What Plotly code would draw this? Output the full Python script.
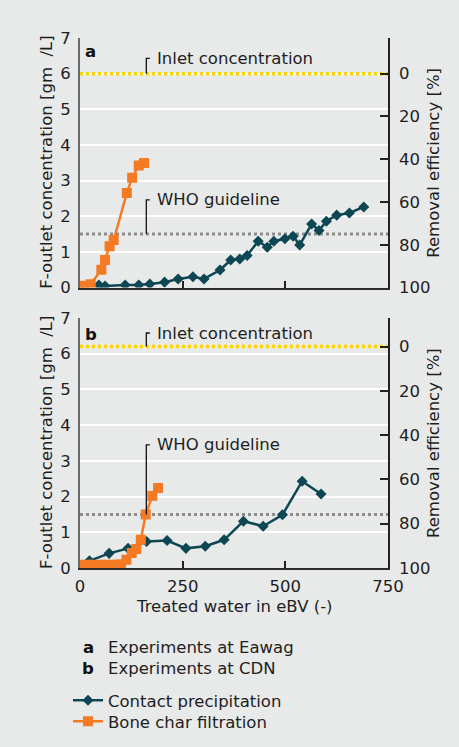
import plotly.graph_objects as go

# ---------------- data ----------------
# Panel a: experiments at Eawag
A_CP_X = [46, 61, 110, 143, 170, 206, 239, 275, 302, 341, 367, 389, 407, 434, 456, 472, 499, 519, 535, 564, 582, 600, 625, 656, 691]
A_CP_Y = [0.07, 0.04, 0.07, 0.07, 0.10, 0.15, 0.24, 0.30, 0.24, 0.49, 0.77, 0.80, 0.90, 1.30, 1.13, 1.30, 1.37, 1.44, 1.19, 1.78, 1.60, 1.86, 2.03, 2.09, 2.26]
A_BC_X = [0, 9, 26, 52, 61, 72, 82, 114, 127, 143, 156]
A_BC_Y = [0.05, 0.04, 0.09, 0.50, 0.77, 1.16, 1.33, 2.65, 3.08, 3.42, 3.49]

# Panel b: experiments at CDN
B_CP_X = [0, 23, 71, 117, 162, 212, 258, 305, 351, 398, 446, 493, 541, 587]
B_CP_Y = [0.05, 0.20, 0.41, 0.55, 0.74, 0.77, 0.55, 0.61, 0.79, 1.31, 1.17, 1.49, 2.43, 2.07]
B_BC_X = [0, 10, 20, 30, 40, 50, 60, 70, 80, 90, 100, 113, 126, 137, 148, 160, 176, 190]
B_BC_Y = [0.09, 0.08, 0.09, 0.09, 0.08, 0.09, 0.09, 0.08, 0.09, 0.09, 0.10, 0.23, 0.42, 0.53, 0.79, 1.50, 2.02, 2.24]

INLET = [6.0, 6.2]          # inlet concentration per panel
WHO = 1.5                   # WHO guideline
X_RANGE = [0, 750]
X_TICKS = [0, 250, 500, 750]
EFF_TICKS = [0, 20, 40, 60, 80, 100]
PANEL_LABELS = ["a", "b"]
LEGEND_NOTES = [("a", "Experiments at Eawag"), ("b", "Experiments at CDN")]
SERIES_NAMES = ["Contact precipitation", "Bone char filtration"]

# ---------------- style ----------------
BG = "#e8e9e9"
TEAL = "#0c4753"
ORANGE = "#f47a24"
YELLOW = "#f9d200"
GREY_DOT = "#8c8c8c"
TXT = "#1e1e1e"
FONT = "DejaVu Sans"
FS = 16.5

W, H = 459, 747
ML, MR, MT, MB = 80, 71, 38, 179
PW, PH = W - ML - MR, H - MT - MB


def pxx(x):
    return (x - ML) / PW


def pxy(y):
    return (H - MB - y) / PH


fig = go.Figure()

panels = [
    dict(cpx=A_CP_X, cpy=A_CP_Y, bcx=A_BC_X, bcy=A_BC_Y, xa="x", ya="y", ya2="y2"),
    dict(cpx=B_CP_X, cpy=B_CP_Y, bcx=B_BC_X, bcy=B_BC_Y, xa="x2", ya="y3", ya2="y4"),
]

for i, p in enumerate(panels):
    fig.add_trace(go.Scatter(x=X_RANGE, y=[INLET[i], INLET[i]], mode="lines",
                             line=dict(color=YELLOW, width=3.5, dash="3px,3px"),
                             xaxis=p["xa"], yaxis=p["ya"], showlegend=False, hoverinfo="skip"))
    fig.add_trace(go.Scatter(x=X_RANGE, y=[WHO, WHO], mode="lines",
                             line=dict(color=GREY_DOT, width=3, dash="3px,3px"),
                             xaxis=p["xa"], yaxis=p["ya"], showlegend=False, hoverinfo="skip"))
    fig.add_trace(go.Scatter(x=p["cpx"], y=p["cpy"], mode="lines+markers", name=SERIES_NAMES[0],
                             line=dict(color=TEAL, width=2.5),
                             marker=dict(symbol="diamond", size=8.5, color=TEAL),
                             xaxis=p["xa"], yaxis=p["ya"], showlegend=(i == 0), legend="legend"))
    fig.add_trace(go.Scatter(x=p["bcx"], y=p["bcy"], mode="lines+markers", name=SERIES_NAMES[1],
                             line=dict(color=ORANGE, width=2.5),
                             marker=dict(symbol="square", size=10, color=ORANGE),
                             xaxis=p["xa"], yaxis=p["ya"], showlegend=(i == 0), legend="legend2"))
    fig.add_trace(go.Scatter(x=[None], y=[None], xaxis=p["xa"], yaxis=p["ya2"],
                             showlegend=False, hoverinfo="skip"))

tickfont = dict(family=FONT, size=FS, color=TXT)

common_x = dict(range=X_RANGE, tickvals=X_TICKS, ticks="inside", ticklen=7, tickwidth=1.5,
                tickcolor="#222", showline=True, linecolor="#2a2a2a", linewidth=1.5,
                showgrid=False, zeroline=False, tickfont=tickfont, fixedrange=True)
common_y = dict(range=[0, 7], dtick=1, ticks="", showline=True, linecolor="#6a6a6a", linewidth=2,
                showgrid=True, gridcolor="white", gridwidth=1.5, zeroline=False,
                tickfont=tickfont, ticklabelstandoff=4)


def eff_axis(overlay, cin):
    top = (1 - 7 / cin) * 100
    return dict(overlaying=overlay, side="right", range=[100, top], tickvals=EFF_TICKS,
                ticks="inside", ticklen=8, tickwidth=1.5, tickcolor="#222",
                showline=True, linecolor="#222", linewidth=1.5, showgrid=False, zeroline=False,
                tickfont=tickfont, ticklabelstandoff=6)


dom_a = [pxy(287.5), 1]
dom_b = [0, pxy(318)]

legend_common = dict(xanchor="left", yanchor="top", bgcolor="rgba(0,0,0,0)",
                     font=dict(family=FONT, size=FS, color=TXT), itemwidth=30)

fig.update_layout(
    width=W, height=H,
    margin=dict(l=ML, r=MR, t=MT, b=MB, autoexpand=False),
    paper_bgcolor=BG, plot_bgcolor=BG,
    font=dict(family=FONT, size=FS, color=TXT),
    xaxis=dict(anchor="y", domain=[0, 1], showticklabels=False, **common_x),
    yaxis=dict(anchor="x", domain=dom_a, **common_y),
    yaxis2=eff_axis("y", INLET[0]),
    xaxis2=dict(anchor="y3", domain=[0, 1], showticklabels=True, ticklabelstandoff=2, **common_x),
    yaxis3=dict(anchor="x2", domain=dom_b, **common_y),
    yaxis4=eff_axis("y3", INLET[1]),
    showlegend=True,
    legend=dict(x=pxx(68), y=pxy(683), **legend_common),
    legend2=dict(x=pxx(68), y=pxy(704), **legend_common),
)

ann = []
shapes = []
brackets = [
    ("x", "y", INLET[0], 6.43, "Inlet concentration"),
    ("x", "y", WHO, 2.46, "WHO guideline"),
    ("x2", "y3", INLET[1], 6.58, "Inlet concentration"),
    ("x2", "y3", WHO, 3.45, "WHO guideline"),
]
BX0, BX1, TX = 161.5, 170, 182
for xr, yr, y0, y1, txt in brackets:
    shapes.append(dict(type="path", xref=xr, yref=yr,
                       path=f"M {BX0},{y0} L {BX0},{y1} L {BX1},{y1}",
                       line=dict(color="#111", width=1.3)))
    ann.append(dict(xref=xr, yref=yr, x=TX, y=y1, text=txt, showarrow=False,
                    xanchor="left", yanchor="middle", font=dict(family=FONT, size=FS, color=TXT)))

for lab, (xr, yr, yy) in zip(PANEL_LABELS, [("x", "y", 6.62), ("x2", "y3", 6.55)]):
    ann.append(dict(xref=xr, yref=yr, x=26, y=yy, text=f"<b>{lab}</b>", showarrow=False,
                    xanchor="center", yanchor="middle", font=dict(family=FONT, size=FS, color="#111")))

ytitle = "F-outlet concentration [gm\u00a0\u00a0/L]"
rtitle = "Removal efficiency [%]"
for d in (dom_a, dom_b):
    yc = (d[0] + d[1]) / 2
    ann.append(dict(xref="paper", yref="paper", x=pxx(47), y=yc, text=ytitle, textangle=-90,
                    showarrow=False, xanchor="center", yanchor="middle",
                    font=dict(family=FONT, size=FS, color=TXT)))
    ann.append(dict(xref="paper", yref="paper", x=pxx(434), y=yc, text=rtitle, textangle=-90,
                    showarrow=False, xanchor="center", yanchor="middle",
                    font=dict(family=FONT, size=FS, color=TXT)))
ann.append(dict(xref="paper", yref="paper", x=0.5, y=pxy(606), text="Treated water in eBV (-)",
                showarrow=False, xanchor="center", yanchor="middle",
                font=dict(family=FONT, size=FS, color=TXT)))

for (lab, txt), yy in zip(LEGEND_NOTES, [647, 668]):
    ann.append(dict(xref="paper", yref="paper", x=pxx(88), y=pxy(yy), text=f"<b>{lab}</b>",
                    showarrow=False, xanchor="center", yanchor="middle",
                    font=dict(family=FONT, size=FS, color="#111")))
    ann.append(dict(xref="paper", yref="paper", x=pxx(106), y=pxy(yy), text=txt,
                    showarrow=False, xanchor="left", yanchor="middle",
                    font=dict(family=FONT, size=FS, color=TXT)))

fig.update_layout(annotations=ann, shapes=shapes)

fig.write_html("out.html", include_plotlyjs=True, config={"displayModeBar": False},
               post_script=f"document.body.style.margin='0';document.body.style.background='{BG}';")
